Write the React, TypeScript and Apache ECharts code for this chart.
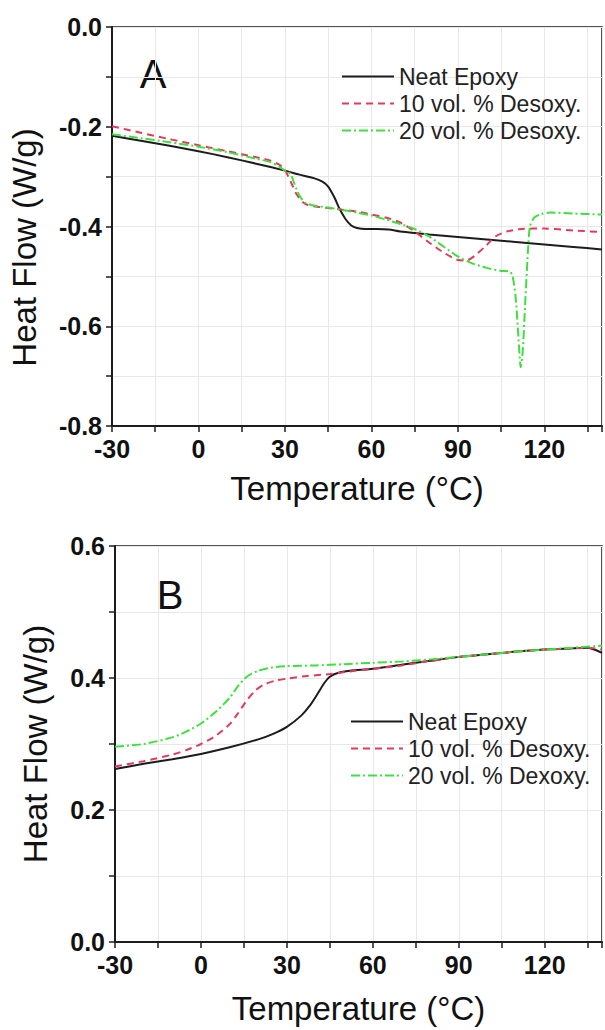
import React, { useEffect, useRef } from "react";
import * as echarts from "echarts";

// ---------- Panel A data (Temperature °C, Heat Flow W/g) ----------
const aNeatX = [-30, -20, -10, 0, 10, 20, 30, 35, 40, 43, 45, 47, 49, 51, 53, 55, 58, 62, 66, 70, 80, 90, 100, 110, 120, 130, 140];
const aNeatY = [-0.218, -0.228, -0.238, -0.249, -0.261, -0.274, -0.288, -0.296, -0.303, -0.31, -0.32, -0.34, -0.365, -0.385, -0.398, -0.403, -0.405, -0.405, -0.406, -0.41, -0.416, -0.421, -0.426, -0.431, -0.436, -0.441, -0.446];

const a10X = [-30, -20, -10, 0, 10, 20, 25, 28, 30, 32, 34, 36, 38, 42, 48, 55, 60, 65, 70, 75, 80, 85, 90, 93, 96, 100, 103, 107, 112, 120, 130, 140];
const a10Y = [-0.199, -0.212, -0.225, -0.237, -0.249, -0.261, -0.268, -0.276, -0.287, -0.31, -0.335, -0.35, -0.357, -0.361, -0.365, -0.37, -0.376, -0.382, -0.392, -0.41, -0.432, -0.452, -0.467, -0.468, -0.458, -0.437, -0.42, -0.41, -0.405, -0.404, -0.408, -0.411];

const a20X = [-30, -20, -10, 0, 10, 20, 25, 28, 30, 32, 33, 35, 37, 40, 45, 50, 55, 60, 65, 70, 75, 80, 85, 90, 95, 100, 105, 108, 109, 110, 111, 111.8, 112.5, 113.3, 114.3, 115, 116.5, 119, 122, 130, 140];
const a20Y = [-0.215, -0.223, -0.231, -0.24, -0.251, -0.264, -0.271, -0.28, -0.288, -0.295, -0.31, -0.338, -0.352, -0.358, -0.362, -0.367, -0.372, -0.378, -0.386, -0.395, -0.405, -0.42, -0.44, -0.46, -0.474, -0.483, -0.489, -0.49, -0.5, -0.54, -0.62, -0.682, -0.65, -0.56, -0.45, -0.4, -0.382, -0.375, -0.372, -0.374, -0.376];

// ---------- Panel B data ----------
const bNeatX = [-30, -20, -10, 0, 10, 20, 25, 30, 35, 38, 41, 43, 45, 48, 52, 60, 70, 80, 90, 100, 110, 120, 130, 135, 138, 140];
const bNeatY = [0.262, 0.27, 0.277, 0.285, 0.295, 0.307, 0.315, 0.326, 0.343, 0.358, 0.378, 0.392, 0.402, 0.408, 0.411, 0.414, 0.42, 0.426, 0.432, 0.436, 0.44, 0.443, 0.445, 0.446, 0.442, 0.438];

const b10X = [-30, -20, -10, -5, 0, 5, 10, 13, 16, 19, 22, 26, 30, 37, 45, 52, 60, 70, 80, 90, 100, 110, 120, 130, 135, 140];
const b10Y = [0.266, 0.274, 0.284, 0.291, 0.3, 0.312, 0.33, 0.347, 0.366, 0.381, 0.39, 0.396, 0.399, 0.403, 0.406, 0.41, 0.414, 0.419, 0.426, 0.432, 0.436, 0.44, 0.443, 0.445, 0.446, 0.443];

const b20X = [-30, -20, -10, -5, 0, 5, 10, 13, 16, 20, 25, 30, 40, 50, 60, 70, 80, 90, 100, 110, 120, 130, 140];
const b20Y = [0.296, 0.3, 0.31, 0.319, 0.331, 0.348, 0.37, 0.388, 0.402, 0.411, 0.416, 0.418, 0.419, 0.421, 0.423, 0.425, 0.428, 0.432, 0.436, 0.44, 0.443, 0.446, 0.449];

const seriesNamesA = ["Neat Epoxy", "10 vol. % Desoxy.", "20 vol. % Desoxy."];
const seriesNamesB = ["Neat Epoxy", "10 vol. % Desoxy.", "20 vol. % Dexoxy."];
const xTicksMajor = [-30, 0, 30, 60, 90, 120];

const FONT = "'Liberation Sans', Arial, Helvetica, sans-serif";
const BLACK = "#1c1c1c";
const RED = "#e23a5c";
const GREEN = "#3ee03e";

function zip(xs: number[], ys: number[]) {
  return xs.map((x, i) => [x, ys[i]]);
}

function xAxisFor(gridIndex: number, gap: number) {
  return {
    type: "value",
    gridIndex,
    min: -30,
    max: 140,
    interval: 15,
    name: "Temperature (°C)",
    nameLocation: "middle",
    nameGap: gap,
    nameTextStyle: { fontFamily: FONT, fontSize: 33, color: "#111" },
    axisLine: { show: true, onZero: false, lineStyle: { color: BLACK, width: 2 } },
    axisTick: { show: true, inside: false, length: 6, lineStyle: { color: BLACK, width: 1.5 } },
    axisLabel: {
      margin: 10,
      fontFamily: FONT,
      fontSize: 25,
      fontWeight: "bold",
      color: "#111",
      formatter: (v: number) => (xTicksMajor.indexOf(Math.round(v)) >= 0 ? String(Math.round(v)) : ""),
    },
    splitLine: { show: true, lineStyle: { color: "#e8e8e8", width: 1 } },
  };
}

function yAxisFor(gridIndex: number, min: number, max: number, gap: number, padding: number[]) {
  return {
    type: "value",
    gridIndex,
    min,
    max,
    interval: 0.1,
    name: "Heat Flow (W/g)",
    nameLocation: "middle",
    nameGap: gap,
    nameRotate: 90,
    nameTextStyle: { fontFamily: FONT, fontSize: 33, color: "#111", padding },
    axisLine: { show: true, onZero: false, lineStyle: { color: BLACK, width: 2 } },
    axisTick: { show: true, inside: false, length: 6, lineStyle: { color: BLACK, width: 1.5 } },
    axisLabel: {
      margin: 10,
      fontFamily: FONT,
      fontSize: 25,
      fontWeight: "bold",
      color: "#111",
      formatter: (v: number) => {
        const k = Math.round(v * 10);
        return Math.abs(k) % 2 === 0 ? (k / 10).toFixed(1) : "";
      },
    },
    splitLine: { show: true, lineStyle: { color: "#e8e8e8", width: 1 } },
  };
}

function lineSeries(name: string, data: number[][], idx: number, color: string, type: any, width: number) {
  return {
    type: "line",
    name,
    xAxisIndex: idx,
    yAxisIndex: idx,
    data,
    showSymbol: false,
    symbol: "none",
    smooth: 0.25,
    lineStyle: { color, width, type },
    itemStyle: { color },
    z: 3,
  };
}

export default function App() {
  const ref = useRef<HTMLDivElement>(null);
  useEffect(() => {
    if (!ref.current) return;
    const chart = echarts.init(ref.current, undefined, { renderer: "svg" });
    const dashDot = [9, 3, 2, 3];
    const dashed = [7, 5];
    const legendCommon = {
      orient: "vertical",
      itemWidth: 52,
      itemHeight: 14,
      itemGap: 4,
      textStyle: { fontFamily: FONT, fontSize: 23, color: "#222", padding: [0, 0, 0, 0] },
      itemStyle: { color: "transparent", borderColor: "transparent", borderWidth: 0, opacity: 0 },
      selectedMode: false,
    };
    chart.setOption({
      animation: false,
      backgroundColor: "#ffffff",
      grid: [
        { left: 112, top: 27, width: 491, height: 399, show: true, borderColor: BLACK, borderWidth: 1.5, backgroundColor: "transparent" },
        { left: 115, top: 546, width: 488, height: 396, show: true, borderColor: BLACK, borderWidth: 1.5, backgroundColor: "transparent" },
      ],
      xAxis: [xAxisFor(0, 46), xAxisFor(1, 50)],
      yAxis: [yAxisFor(0, -0.8, 0, 71, [0, 42, 0, 0]), yAxisFor(1, 0, 0.6, 63, [0, 0, 0, 0])],
      legend: [
        { ...legendCommon, left: 336, top: 60, data: seriesNamesA.map((n) => ({ name: n })) },
        { ...legendCommon, left: 345, top: 705, data: seriesNamesB.map((n) => ({ name: n })) },
      ],
      graphic: [
        { type: "text", x: 153, y: 74, style: { text: "A", font: `40px ${FONT}`, fill: "#111", align: "center", verticalAlign: "middle", textAlign: "center", textVerticalAlign: "middle" } },
        { type: "text", x: 170, y: 595, style: { text: "B", font: `40px ${FONT}`, fill: "#111", align: "center", verticalAlign: "middle", textAlign: "center", textVerticalAlign: "middle" } },
      ],
      series: [
        lineSeries(seriesNamesA[0], zip(aNeatX, aNeatY), 0, BLACK, "solid", 2),
        lineSeries(seriesNamesA[1], zip(a10X, a10Y), 0, RED, dashed, 2),
        lineSeries(seriesNamesA[2], zip(a20X, a20Y), 0, GREEN, dashDot, 2),
        lineSeries(seriesNamesB[0], zip(bNeatX, bNeatY), 1, BLACK, "solid", 2),
        lineSeries(seriesNamesB[1], zip(b10X, b10Y), 1, RED, dashed, 2),
        lineSeries(seriesNamesB[2], zip(b20X, b20Y), 1, GREEN, dashDot, 2),
      ],
    });
    return () => chart.dispose();
  }, []);
  return <div ref={ref} style={{ position: "fixed", left: 0, top: 0, width: 605, height: 1030, background: "#fff" }} />;
}
